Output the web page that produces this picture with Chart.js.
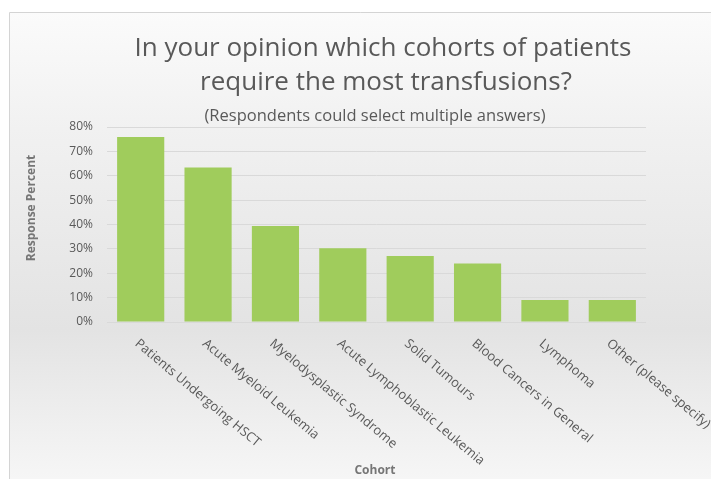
<!DOCTYPE html>
<html><head><meta charset="utf-8">
<script src="https://cdn.jsdelivr.net/npm/chart.js@4.4.1/dist/chart.umd.min.js"></script>
<style>html,body{margin:0;padding:0;background:#fff}#wrap{width:711px;height:479px}</style>
</head><body><div id="wrap"><canvas id="c" width="711" height="479"></canvas></div>
<script>
const categories = ['Patients Undergoing HSCT','Acute Myeloid Leukemia','Myelodysplastic Syndrome','Acute Lymphoblastic Leukemia','Solid Tumours','Blood Cancers in General','Lymphoma','Other (please specify)'];
const responsePercent = [75.9, 63.4, 39.4, 30.3, 27.1, 24.0, 9.0, 9.0];
const yTickMax = 80;
const yTickStep = 10;
const titleLines = ['In your opinion which cohorts of patients','require the most transfusions?'];
const subtitleText = '(Respondents could select multiple answers)';
const yAxisTitle = 'Response Percent';
const xAxisTitle = 'Cohort';

const decor = {
  id: 'decor',
  beforeDraw(chart) {
    const ctx = chart.ctx;
    ctx.save();
    ctx.fillStyle = '#ffffff';
    ctx.fillRect(0, 0, chart.width, chart.height);
    const g = ctx.createLinearGradient(0, 12, 0, chart.height);
    g.addColorStop(0, '#fbfbfb');
    g.addColorStop(0.25, '#f1f1f1');
    g.addColorStop(0.68, '#e3e3e3');
    g.addColorStop(1, '#f6f6f6');
    ctx.fillStyle = g;
    ctx.fillRect(9.5, 12.5, chart.width, chart.height);
    ctx.strokeStyle = '#d4d4d4';
    ctx.lineWidth = 1;
    ctx.beginPath();
    ctx.moveTo(9.5, chart.height); ctx.lineTo(9.5, 12.5); ctx.lineTo(chart.width, 12.5);
    ctx.stroke();
    ctx.restore();
  },
  afterDraw(chart) {
    const ctx = chart.ctx;
    const xs = chart.scales.x;
    ctx.save();
    // title
    ctx.fillStyle = '#595959';
    ctx.textAlign = 'center';
    ctx.textBaseline = 'middle';
    ctx.font = '26px "Open Sans"';
    ctx.fillText(titleLines[0], 383, 49);
    ctx.fillText(titleLines[1], 386, 83);
    ctx.font = '16.5px "Open Sans"';
    ctx.fillText(subtitleText, 375, 116);
    // axis titles
    ctx.fillStyle = '#767676';
    ctx.font = 'bold 12px "Open Sans"';
    ctx.fillText(xAxisTitle, 375, 471);
    ctx.save();
    ctx.translate(32, 208);
    ctx.rotate(-Math.PI / 2);
    ctx.fillText(yAxisTitle, 0, 0);
    ctx.restore();
    // x tick labels, rotated clockwise
    ctx.fillStyle = '#595959';
    ctx.font = '13px "Open Sans"';
    ctx.textAlign = 'left';
    ctx.textBaseline = 'middle';
    categories.forEach((lab, i) => {
      const x = xs.getPixelForValue(i);
      ctx.save();
      ctx.translate(x - 4, 342);
      ctx.rotate(40 * Math.PI / 180);
      ctx.fillText(lab, 0, 0);
      ctx.restore();
    });
    ctx.restore();
  }
};

new Chart(document.getElementById('c'), {
  type: 'bar',
  data: {
    labels: categories,
    datasets: [{
      data: responsePercent,
      backgroundColor: '#a0cc5c',
      borderWidth: 0,
      barPercentage: 0.7,
      categoryPercentage: 1.0
    }]
  },
  options: {
    responsive: false,
    animation: false,
    devicePixelRatio: 1,
    layout: { padding: { left: 0, right: 65, top: 127, bottom: 0 } },
    plugins: { legend: { display: false }, tooltip: { enabled: false }, title: { display: false } },
    scales: {
      x: {
        afterFit(s) { s.height = 157; },
        ticks: { display: false },
        grid: { display: false },
        border: { display: false }
      },
      y: {
        min: 0, max: yTickMax,
        afterFit(s) { s.width = 107; },
        ticks: { stepSize: yTickStep, callback: v => v + '%', color: '#595959', font: { family: 'Open Sans', size: 12 }, padding: 14 },
        grid: { color: '#d9d9d9', drawTicks: false },
        border: { display: false }
      }
    }
  },
  plugins: [decor]
});
</script></body></html>
